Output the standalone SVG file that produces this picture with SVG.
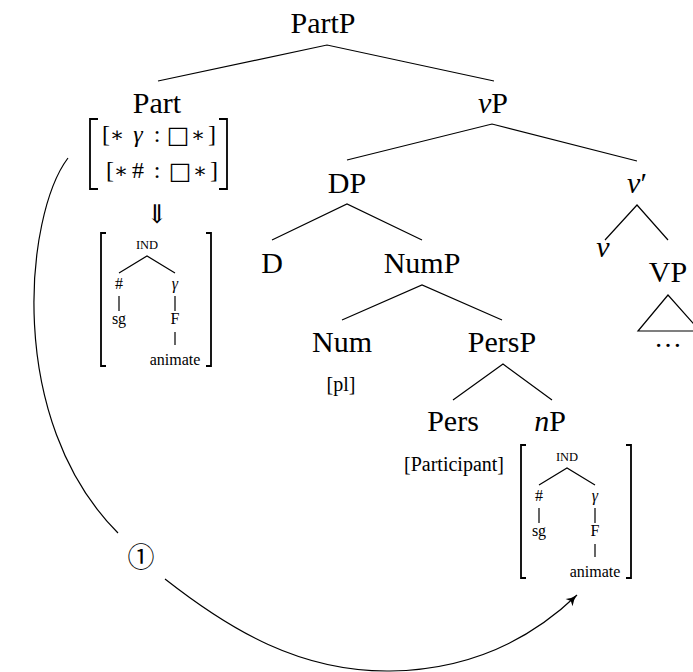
<svg xmlns="http://www.w3.org/2000/svg" width="693" height="672" viewBox="0 0 693 672">
<defs>
<style>
.e{stroke:#000;stroke-width:1.2;fill:none}
.br{stroke:#000;stroke-width:1.8;fill:none}
</style>
<marker id="ah" viewBox="-12 -6 14 12" refX="0" refY="0" markerWidth="14" markerHeight="12" markerUnits="userSpaceOnUse" orient="auto">
<path d="M-11,-5 Q-6,-1 0,0 Q-6,1 -11,5 L-8.5,0 Z" fill="#000"/>
</marker>
<g id="mtx" font-family="Liberation Serif, serif" text-anchor="middle" fill="#000">
<path class="br" d="M-41,0 H-46 V133 H-41"/>
<path class="br" d="M59,0 H64 V133 H59"/>
<text x="0" y="16" font-size="12.5">IND</text>
<path class="e" d="M-28,40 L0,23 L28,40 M-28,63 V78 M28,63 V78 M28,99 V112"/>
<text x="-28" y="56" font-size="16">#</text>
<text x="28" y="56" font-size="16" font-style="italic">γ</text>
<text x="-28" y="91" font-size="16">sg</text>
<text x="28" y="91" font-size="16">F</text>
<text x="28" y="132" font-size="16">animate</text>
</g>
</defs>
<rect width="693" height="672" fill="#fff"/>
<g id="edges">
<path class="e" d="M158,81 L327,45 L494,81"/>
<path class="e" d="M347,160 L492,124 L637,161"/>
<path class="e" d="M272,240 L347,204 L422,240"/>
<path class="e" d="M605,240 L637,205 L668,240"/>
<path class="e" d="M342,320 L422,285 L502,320"/>
<path class="e" d="M453,400 L503,364 L552,400"/>
<path class="e" d="M668,295 L638,331 L700,331 Z"/>
<path class="e" d="M68,158 C25,215 5,420 118,533"/>
<path class="e" d="M165,579 C230,630 300,672 390,671 C470,670 530,640 577,595" marker-end="url(#ah)"/>
</g>
<g font-family="Liberation Serif, serif" text-anchor="middle" fill="#000" font-size="30">
<g id="PartP"><text x="323" y="33">PartP</text></g>
<g id="Part">
<text x="157" y="113">Part</text>
<path class="br" d="M98,119 H90 V189 H98" stroke-width="2.2"/>
<path class="br" d="M219,119 H227 V189 H219" stroke-width="2.2"/>
<g font-size="24">
<text x="106" y="142">[</text>
<text x="117" y="142" font-family="DejaVu Serif, serif" font-size="21">∗</text>
<text x="138" y="142" font-style="italic">γ</text>
<text x="157" y="142">:</text>
<text x="178" y="143" font-family="DejaVu Serif, serif">□</text>
<text x="198" y="142" font-family="DejaVu Serif, serif" font-size="21">∗</text>
<text x="212" y="142">]</text>
<text x="110" y="178">[</text>
<text x="121" y="178" font-family="DejaVu Serif, serif" font-size="21">∗</text>
<text x="138" y="178">#</text>
<text x="157" y="178">:</text>
<text x="180" y="179" font-family="DejaVu Serif, serif">□</text>
<text x="200" y="178" font-family="DejaVu Serif, serif" font-size="21">∗</text>
<text x="214" y="178">]</text>
<text x="157" y="223" font-family="DejaVu Serif, serif" font-size="26">⇓</text>
</g>
</g>
<g id="Part-matrix"><use href="#mtx" x="147" y="233"/></g>
<g id="vP"><text x="493" y="113"><tspan font-style="italic">v</tspan>P</text></g>
<g id="DP"><text x="347" y="193">DP</text></g>
<g id="vbar"><text x="637" y="193"><tspan font-style="italic">v</tspan>′</text></g>
<g id="D"><text x="272" y="273">D</text></g>
<g id="NumP"><text x="422" y="273">NumP</text></g>
<g id="v"><text x="603" y="257" font-style="italic">v</text></g>
<g id="VP"><text x="668" y="282">VP</text><text x="668" y="347" font-size="28">…</text></g>
<g id="Num"><text x="342" y="352">Num</text><text x="341" y="391" font-size="20">[pl]</text></g>
<g id="PersP"><text x="502" y="352">PersP</text></g>
<g id="Pers"><text x="453" y="431">Pers</text><text x="454" y="471" font-size="20">[Participant]</text></g>
<g id="nP"><text x="550" y="431"><tspan font-style="italic">n</tspan>P</text><use href="#mtx" x="567" y="445"/></g>
<g id="label1"><text x="141" y="567" font-family="Noto Sans CJK JP, sans-serif" font-size="27">①</text></g>
</g>
</svg>
